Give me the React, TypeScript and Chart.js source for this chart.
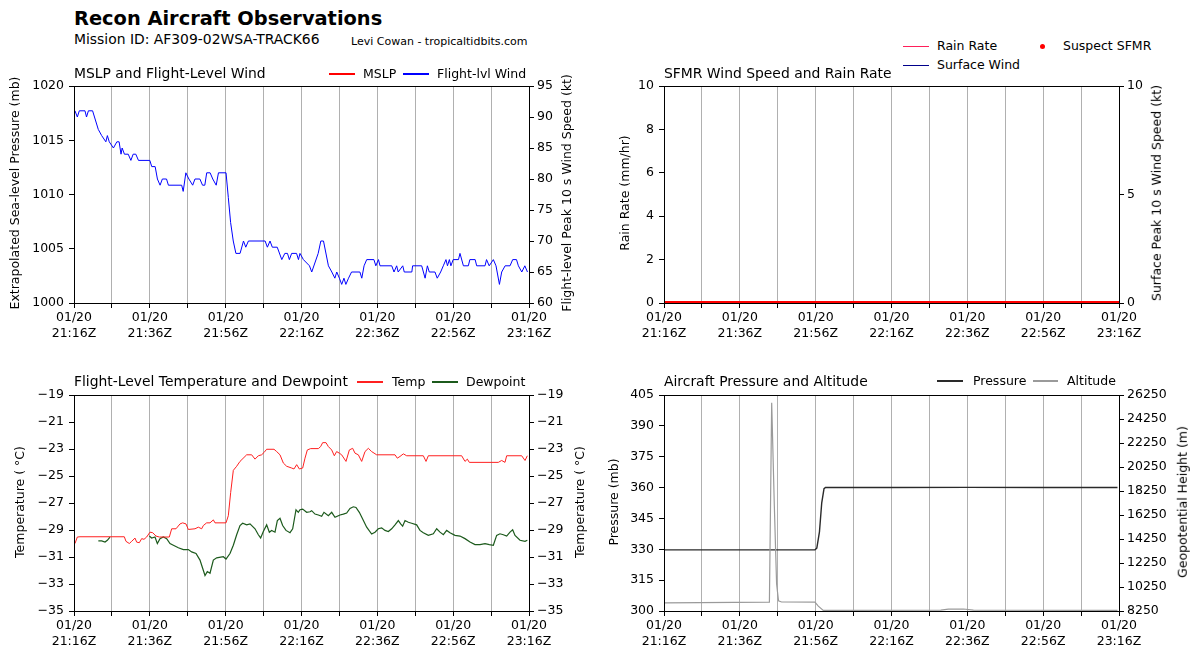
import React, { useEffect, useRef } from 'react';
import { Chart, registerables } from 'chart.js';

Chart.register(...registerables);

// ---------------- Data ----------------
const DATE_LABEL = '01/20';
const xTickValues = [0, 10, 20, 30, 40, 50, 60, 70, 80, 90, 100, 110, 120];
const xLabelValues = [0, 20, 40, 60, 80, 100, 120];
const xTimeLabels = ['21:16Z', '21:36Z', '21:56Z', '22:16Z', '22:36Z', '22:56Z', '23:16Z'];

// minutes after 21:16Z
const windTimes = [
  0.26, 0.88, 1.4, 2.9, 3.3, 3.8, 4.9, 6.4, 7.3, 8.4,
  8.8, 9.3, 10.4, 11.3, 11.9, 12.4, 12.7, 13.3, 14.3, 15.0,
  15.6, 16.3, 17.0, 20.0, 20.5, 21.4, 22.0, 22.7, 23.3, 24.4,
  24.9, 28.4, 28.8, 29.5, 30.3, 31.3, 31.9, 33.2, 33.9, 34.5,
  35.0, 35.9, 36.6, 37.5, 38.1, 40.1, 40.7, 41.3, 42.0, 42.7,
  43.8, 44.7, 45.3, 46.0, 50.4, 51.0, 51.7, 52.3, 53.6, 54.8,
  55.6, 56.3, 56.8, 57.4, 58.7, 59.2, 59.6, 60.5, 62.1, 62.7,
  64.4, 65.1, 65.8, 67.1, 68.0, 68.8, 69.3, 70.0, 70.6, 71.2,
  71.7, 72.4, 73.2, 75.4, 75.9, 76.5, 77.2, 79.1, 79.6, 80.3,
  80.7, 83.8, 84.4, 85.1, 85.5, 86.7, 87.1, 89.1, 89.3, 91.7,
  92.6, 93.2, 93.7, 95.2, 95.8, 96.7, 97.4, 98.1, 98.5, 99.0,
  99.4, 100.0, 101.4, 101.8, 102.7, 104.0, 104.4, 105.8, 106.2, 108.4,
  108.8, 109.5, 110.6, 111.3, 112.2, 112.8, 113.7, 115.0, 115.7, 116.7,
  117.2, 118.1, 118.9, 119.6,
];
const windKt = [
  91, 90, 91, 91, 90, 91, 91, 88, 87, 86,
  87, 86, 85, 86, 86, 84, 85, 84, 84, 83,
  84, 84, 83, 83, 82, 82, 80, 79, 80, 80,
  79, 79, 78, 81, 80, 79, 80, 80, 79, 79,
  81, 81, 80, 79, 81, 81, 77, 73, 70, 68,
  68, 70, 69, 70, 70, 69, 70, 69, 69, 67,
  68, 68, 67, 68, 68, 67, 68, 67, 66, 65,
  68, 70, 70, 66, 65, 64, 65, 64, 63, 64,
  63, 64, 65, 65, 64, 66, 67, 67, 66, 67,
  66, 66, 65, 66, 65, 66, 65, 65, 66, 66,
  64, 66, 65, 65, 64, 65, 66, 67, 66, 67,
  66, 67, 67, 68, 66, 66, 67, 67, 66, 66,
  67, 66, 67, 66, 63, 65, 66, 66, 67, 67,
  66, 65, 66, 65,
];

const suspectSfmrTimes = [0, 120];
const suspectSfmrKt = [0, 0];

const tempTimes = [
  0.26, 0.88, 1.58, 13.27, 13.71, 14.59, 15.21, 16.09, 16.53, 17.23,
  17.85, 18.46, 19.16, 20.04, 20.75, 21.63, 22.51, 25.14, 25.76, 26.9,
  27.96, 28.66, 29.54, 30.15, 31.91, 32.79, 33.67, 34.11, 34.99, 35.87,
  36.75, 37.19, 40.09, 40.7, 41.32, 42.02, 42.9, 43.78, 45.54, 46.86,
  47.74, 48.62, 49.49, 50.11, 50.81, 52.75, 53.45, 54.33, 55.21, 56.09,
  57.41, 58.02, 58.73, 59.43, 60.31, 60.92, 61.54, 62.42, 64.44, 65.05,
  65.58, 66.46, 67.08, 67.96, 68.66, 69.27, 69.98, 70.59, 71.74, 72.62,
  73.49, 74.11, 74.99, 75.87, 76.75, 77.63, 78.5, 79.82, 84.66, 85.27,
  85.98, 86.86, 87.74, 92.13, 92.84, 93.45, 102.24, 103.12, 103.74, 104.26,
  111.91, 112.79, 113.67, 114.11, 118.07, 118.95, 119.56,
];
const tempC = [
  -30.0, -29.52, -29.5, -29.5, -29.84, -30.0, -29.84, -29.6, -29.9, -29.94,
  -29.64, -29.69, -29.52, -29.16, -29.2, -29.45, -29.52, -29.52, -28.91, -28.91,
  -28.55, -28.47, -28.55, -28.96, -28.91, -28.79, -28.91, -28.67, -28.47, -28.47,
  -28.25, -28.47, -28.47, -27.94, -26.23, -24.58, -24.28, -23.92, -23.43, -23.43,
  -23.75, -23.5, -23.43, -23.26, -23.02, -23.02, -23.19, -23.43, -24.04, -24.28,
  -24.41, -24.48, -24.16, -24.48, -24.41, -23.68, -23.07, -22.97, -22.97, -22.82,
  -22.53, -22.53, -22.82, -23.07, -23.5, -23.19, -23.31, -23.43, -23.92, -23.07,
  -22.95, -23.31, -23.43, -23.92, -23.19, -22.95, -23.19, -23.43, -23.43, -23.68,
  -23.55, -23.36, -23.5, -23.5, -23.92, -23.5, -23.5, -23.92, -23.75, -23.99,
  -23.99, -23.85, -23.99, -23.5, -23.5, -23.85, -23.5,
];

const dewTimes = [
  6.42, 7.3, 8.18, 8.79, 9.49, 15.0, 19.87, 20.48, 21.36, 21.98,
  22.68, 23.56, 24.44, 25.32, 26.2, 27.52, 28.84, 30.15, 31.03, 32.18,
  33.23, 33.93, 34.55, 35.16, 35.87, 36.75, 37.63, 39.38, 40.09, 41.14,
  42.02, 42.9, 43.78, 44.48, 45.54, 46.42, 47.74, 48.62, 49.23, 49.93,
  50.81, 51.52, 52.13, 53.01, 53.63, 54.33, 55.03, 55.91, 56.97, 57.67,
  58.55, 59.16, 59.6, 60.31, 61.36, 62.24, 62.68, 63.56, 64.44, 65.32,
  65.93, 67.08, 67.96, 68.84, 70.15, 71.03, 71.91, 72.79, 73.67, 74.37,
  75.25, 76.13, 77.19, 78.5, 79.38, 80.26, 81.14, 82.02, 82.9, 83.78,
  84.66, 85.54, 86.15, 86.68, 87.3, 88.18, 89.05, 90.37, 91.25, 92.13,
  93.45, 94.77, 95.65, 96.53, 97.41, 98.29, 99.16, 100.48, 101.8, 103.12,
  104.44, 105.76, 107.08, 108.4, 109.54, 110.59, 111.47, 112.35, 113.23, 114.11,
  114.99, 115.69, 116.31, 117.63, 118.95, 119.56,
];
const dewC = [
  -29.81, -29.81, -29.89, -29.76, -29.52, null, -29.45, -29.59, -29.52, -30.01,
  -29.64, -29.52, -29.64, -30.01, -30.13, -30.32, -30.45, -30.45, -30.62, -30.74,
  -31.23, -31.83, -32.37, -32.08, -32.2, -31.23, -31.06, -30.98, -31.15, -30.74,
  -30.13, -29.35, -28.67, -28.5, -28.62, -28.55, -28.91, -29.35, -29.59, -29.11,
  -28.62, -29.16, -29.03, -29.16, -28.3, -28.13, -28.67, -29.03, -29.2, -28.91,
  -27.5, -27.69, -27.5, -27.45, -27.69, -27.65, -27.57, -27.82, -27.89, -27.99,
  -27.69, -27.94, -27.69, -28.06, -27.89, -27.82, -27.74, -27.4, -27.28, -27.33,
  -27.69, -28.18, -28.79, -29.3, -29.16, -28.91, -28.84, -29.03, -29.11, -28.91,
  -28.62, -28.3, -28.55, -28.72, -28.3, -28.43, -28.5, -28.62, -29.03, -29.2,
  -29.4, -29.28, -28.91, -29.16, -29.35, -29.03, -29.2, -29.4, -29.45, -29.64,
  -29.89, -30.08, -30.08, -30.01, -30.08, -30.13, -29.4, -29.28, -29.35, -29.45,
  -29.16, -28.99, -29.4, -29.76, -29.84, -29.76,
];

const pressTimes = [0.26, 20.0, 39.8, 40.3, 41.0, 41.6, 42.2, 42.6, 60.0, 80.0, 100.0, 119.6];
const pressMb = [329.7, 329.7, 329.7, 330.6, 338.5, 352.6, 359.5, 360.1, 360.0, 360.1, 360.0, 360.0];

const altTimes = [0.26, 27.8, 28.4, 29.1, 29.7, 30.2, 31.0, 39.8, 40.7, 42.0, 73.0, 75.0, 79.0, 81.6, 119.6];
const altM = [8935, 8990, 25600, 17000, 10500, 9100, 9000, 8990, 8660, 8305, 8330, 8400, 8415, 8320, 8300];

const mslpTicks = [1000, 1005, 1010, 1015, 1020];
const windTicks = [60, 65, 70, 75, 80, 85, 90, 95];
const rainTicks = [0, 2, 4, 6, 8, 10];
const sfmrTicks = [0, 5, 10];
const tempTicks = [-35, -33, -31, -29, -27, -25, -23, -21, -19];
const pressTicks = [300, 315, 330, 345, 360, 375, 390, 405];
const altTicks = [8250, 10250, 12250, 14250, 16250, 18250, 20250, 22250, 24250, 26250];

// ---------------- Styling ----------------
const FONT = "'DejaVu Sans', 'Liberation Sans', sans-serif";
const TICK_FONT = { family: FONT, size: 12.5, lineHeight: 1.28 };
const AXW = 72;
const PADT = 10;
const XH = 48;

const pts = (xs: number[], ys: (number | null)[]) => xs.map((x, i) => ({ x, y: ys[i] }));
const fmtNum = (v: number) => String(v).replace('-', '\u2212');

const framePlugin = {
  id: 'frame',
  afterDraw(chart: any) {
    const { ctx, chartArea: a } = chart;
    ctx.save();
    ctx.strokeStyle = '#000';
    ctx.lineWidth = 1;
    ctx.strokeRect(a.left + 0.5, a.top + 0.5, a.right - a.left, a.bottom - a.top);
    ctx.restore();
  },
};

type Panel = {
  left: number; top: number; right: number; bottom: number;
  yl: { min: number; max: number; ticks: number[] };
  yr: { min: number; max: number; ticks: number[] };
  datasets: any[];
};

const topY = 83, botY = 303, top2 = 392, bot2 = 611;

const panels: Panel[] = [
  {
    left: 74, top: topY, right: 529, bottom: botY,
    yl: { min: 1000, max: 1020, ticks: mslpTicks },
    yr: { min: 60, max: 95, ticks: windTicks },
    datasets: [
      { data: pts(windTimes, windKt), yAxisID: 'yr', borderColor: '#0000ff', borderWidth: 1 },
    ],
  },
  {
    left: 664, top: topY, right: 1119, bottom: botY,
    yl: { min: 0, max: 10, ticks: rainTicks },
    yr: { min: 0, max: 10, ticks: sfmrTicks },
    datasets: [
      { data: pts(suspectSfmrTimes, suspectSfmrKt), yAxisID: 'yr', borderColor: '#ff0000', borderWidth: 4, clip: 0 },
    ],
  },
  {
    left: 74, top: top2, right: 529, bottom: bot2,
    yl: { min: -35, max: -19, ticks: tempTicks },
    yr: { min: -35, max: -19, ticks: tempTicks },
    datasets: [
      { data: pts(tempTimes, tempC), yAxisID: 'yl', borderColor: '#ff2020', borderWidth: 1 },
      { data: pts(dewTimes, dewC), yAxisID: 'yl', borderColor: '#1c5a1c', borderWidth: 1.2, spanGaps: false },
    ],
  },
  {
    left: 664, top: top2, right: 1119, bottom: bot2,
    yl: { min: 300, max: 405, ticks: pressTicks },
    yr: { min: 8250, max: 26250, ticks: altTicks },
    datasets: [
      { data: pts(altTimes, altM), yAxisID: 'yr', borderColor: '#9a9a9a', borderWidth: 1.2 },
      { data: pts(pressTimes, pressMb), yAxisID: 'yl', borderColor: '#2a2a2a', borderWidth: 1.4 },
    ],
  },
];

function yScale(spec: { min: number; max: number; ticks: number[] }, position: 'left' | 'right') {
  return {
    type: 'linear',
    position,
    min: spec.min,
    max: spec.max,
    afterBuildTicks: (s: any) => { s.ticks = spec.ticks.map((v) => ({ value: v })); },
    afterFit: (s: any) => { s.width = AXW; },
    grid: { display: true, drawOnChartArea: false, drawTicks: true, tickLength: 5, tickColor: '#000', color: '#000' },
    border: { display: false },
    ticks: {
      autoSkip: false,
      color: '#000',
      font: TICK_FONT,
      padding: position === 'left' ? 5 : 3,
      callback: (v: number) => fmtNum(v),
    },
  };
}

function makeConfig(p: Panel): any {
  return {
    type: 'line',
    data: {
      datasets: p.datasets.map((d) => ({
        pointRadius: 0,
        pointHoverRadius: 0,
        tension: 0,
        fill: false,
        ...d,
      })),
    },
    options: {
      responsive: false,
      animation: false,
      events: [],
      parsing: true,
      layout: { padding: { top: PADT, left: 0, right: 0, bottom: 0 } },
      plugins: { legend: { display: false }, title: { display: false }, tooltip: { enabled: false } },
      scales: {
        x: {
          type: 'linear',
          position: 'bottom',
          min: 0,
          max: 120,
          afterBuildTicks: (s: any) => { s.ticks = xTickValues.map((v) => ({ value: v })); },
          afterFit: (s: any) => { s.height = XH; },
          grid: { display: true, drawOnChartArea: true, drawTicks: true, tickLength: 5, color: '#b0b0b0', tickColor: '#000', lineWidth: 1 },
          border: { display: false },
          ticks: {
            autoSkip: false,
            maxRotation: 0,
            minRotation: 0,
            color: '#000',
            font: TICK_FONT,
            padding: 2,
            callback: (v: number) => {
              const i = xLabelValues.indexOf(v);
              return i >= 0 ? [DATE_LABEL, xTimeLabels[i]] : '';
            },
          },
        },
        yl: yScale(p.yl, 'left'),
        yr: yScale(p.yr, 'right'),
      },
    },
    plugins: [framePlugin],
  };
}

function PanelCanvas({ p }: { p: Panel }) {
  const ref = useRef<HTMLCanvasElement>(null);
  const w = p.right - p.left + 2 * AXW;
  const h = p.bottom - p.top + PADT + XH;
  useEffect(() => {
    if (!ref.current) return;
    const chart = new Chart(ref.current, makeConfig(p));
    return () => chart.destroy();
  }, [p]);
  return (
    <canvas
      ref={ref}
      width={w}
      height={h}
      style={{ position: 'absolute', left: p.left - AXW, top: p.top - PADT, width: w, height: h }}
    />
  );
}

function Txt({ x, y, text, size, bold, color }: { x: number; y: number; text: string; size: number; bold?: boolean; color?: string }) {
  return (
    <div
      style={{
        position: 'absolute', left: x, top: y - size / 2, fontSize: size, lineHeight: `${size}px`,
        fontFamily: FONT, fontWeight: bold ? 'bold' : 'normal', whiteSpace: 'nowrap', color: color || '#000',
      }}
    >
      {text}
    </div>
  );
}

function VTxt({ x, y, text, size }: { x: number; y: number; text: string; size: number }) {
  return (
    <div
      style={{
        position: 'absolute', left: x, top: y, fontSize: size, lineHeight: `${size}px`, fontFamily: FONT,
        whiteSpace: 'nowrap', transform: 'translate(-50%, -50%) rotate(-90deg)', color: '#000',
      }}
    >
      {text}
    </div>
  );
}

function LegLine({ x1, x2, y, color, h = 1.3 }: { x1: number; x2: number; y: number; color: string; h?: number }) {
  return <div style={{ position: 'absolute', left: x1, top: y - h / 2, width: x2 - x1, height: h, background: color }} />;
}

export default function App() {
  const L = 12.5;
  const midTop = (topY + botY) / 2;
  const midBot = (top2 + bot2) / 2;
  return (
    <div style={{ position: 'fixed', left: 0, top: 0, width: 1200, height: 658, background: '#fff', overflow: 'hidden' }}>
      {panels.map((p, i) => <PanelCanvas key={i} p={p} />)}

      <Txt x={74} y={18.5} text="Recon Aircraft Observations" size={19.4} bold />
      <Txt x={74} y={39.5} text="Mission ID: AF309-02WSA-TRACK66" size={13.9} />
      <Txt x={351} y={41.5} text="Levi Cowan - tropicaltidbits.com" size={11} />

      {/* Panel A */}
      <Txt x={74} y={74} text="MSLP and Flight-Level Wind" size={13.9} />
      <LegLine x1={329} x2={355} y={74} color="#ff0000" />
      <Txt x={363} y={74} text="MSLP" size={L} />
      <LegLine x1={403} x2={429} y={74} color="#0000ff" />
      <Txt x={437} y={74} text="Flight-lvl Wind" size={L} />
      <VTxt x={15} y={midTop} text="Extrapolated Sea-level Pressure (mb)" size={L} />
      <VTxt x={567} y={midTop} text="Flight-level Peak 10 s Wind Speed (kt)" size={L} />

      {/* Panel B */}
      <Txt x={664} y={74} text="SFMR Wind Speed and Rain Rate" size={13.9} />
      <LegLine x1={903} x2={929} y={46} color="#ff1f5a" h={1} />
      <Txt x={937} y={46} text="Rain Rate" size={L} />
      <div style={{ position: 'absolute', left: 1039.5, top: 43.5, width: 5, height: 5, borderRadius: '50%', background: '#ff0000' }} />
      <Txt x={1063} y={46} text="Suspect SFMR" size={L} />
      <LegLine x1={903} x2={929} y={65} color="#00008b" h={1} />
      <Txt x={937} y={65} text="Surface Wind" size={L} />
      <VTxt x={625} y={midTop} text="Rain Rate (mm/hr)" size={L} />
      <VTxt x={1157} y={midTop} text="Surface Peak 10 s Wind Speed (kt)" size={L} />

      {/* Panel C */}
      <Txt x={74} y={382} text="Flight-Level Temperature and Dewpoint" size={13.9} />
      <LegLine x1={357} x2={383} y={382} color="#ff2020" />
      <Txt x={392} y={382} text="Temp" size={L} />
      <LegLine x1={432} x2={458} y={382} color="#1c5a1c" />
      <Txt x={466} y={382} text="Dewpoint" size={L} />
      <VTxt x={20} y={midBot} text="Temperature ( °C)" size={L} />
      <VTxt x={580} y={midBot} text="Temperature ( °C)" size={L} />

      {/* Panel D */}
      <Txt x={664} y={382} text="Aircraft Pressure and Altitude" size={13.9} />
      <LegLine x1={937} x2={963} y={381} color="#2a2a2a" />
      <Txt x={973} y={381} text="Pressure" size={L} />
      <LegLine x1={1033} x2={1058} y={381} color="#9a9a9a" />
      <Txt x={1067} y={381} text="Altitude" size={L} />
      <VTxt x={614} y={midBot} text="Pressure (mb)" size={L} />
      <VTxt x={1183} y={midBot} text="Geopotential Height (m)" size={L} />
    </div>
  );
}
